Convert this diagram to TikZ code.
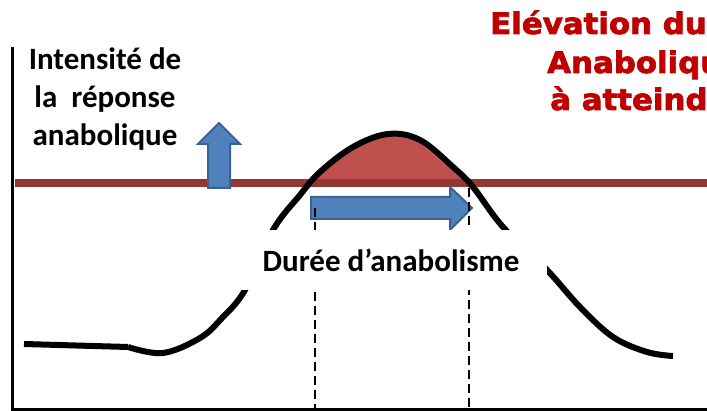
\documentclass[tikz,border=0pt]{standalone}
\usepackage{fontspec}
\setmainfont{Carlito}
\newfontfamily\titlefont[FakeBold=2.5,FakeStretch=1.045]{DejaVu Sans Bold}
\definecolor{arrowblue}{HTML}{4F81BD}
\definecolor{arrowedge}{HTML}{3A6391}
\definecolor{seuilred}{HTML}{943634}
\definecolor{capred}{HTML}{C0504D}
\definecolor{caplight}{HTML}{E27A74}
\definecolor{titlered}{HTML}{C00000}
\begin{document}
\begin{tikzpicture}[x=1pt,y=-1pt,
  curveline/.style={line width=6pt, black},
  bluearrow/.style={fill=arrowblue, draw=arrowedge, line width=2pt, line join=miter},
  guide/.style={line width=2.8pt, black, dash pattern=on 9pt off 5pt},
  axisline/.style={line width=3.2pt, black},
  titletext/.style={anchor=base west, inner sep=0pt, text=titlered,
    font=\titlefont\fontsize{29.5}{30}\selectfont},
  labeltext/.style={font=\bfseries\fontsize{31}{38}\selectfont, inner sep=0pt}]
\useasboundingbox (0,0) rectangle (707,411);
\clip (0,0) rectangle (707,411);

% red cap above the threshold
\begin{scope}
  \clip (0,0) rectangle (707,183);
  \fill[capred] plot[smooth,tension=0.6] coordinates {(128,347) (163,353) (200,338) (222,318) (245,290) (273,230) (300,195) (320,172) (353,147) (388,136) (420,142) (453,167) (473,187) (503,227) (547,270) (580,307) (613,337) (647,352) (673,356)} -- cycle;
  \fill[caplight, opacity=0.45] (420,142) .. controls (438,150) and (450,162) .. (462,178) .. controls (448,168) and (438,158) .. (425,148) -- cycle;
\end{scope}

% threshold line
\coordinate (seuilL) at (15,183);
\coordinate (seuilR) at (707,183);
\draw[seuilred, line width=8pt] (seuilL) -- (seuilR);

% response curve
\coordinate (c0) at (24,344);
\coordinate (c1) at (128,347);
\draw[curveline] (c0) -- (c1);
\draw[curveline] plot[smooth,tension=0.6] coordinates {(128,347) (163,353) (200,338) (222,318) (245,290) (273,230) (300,195) (320,172) (353,147) (388,134) (420,140) (453,167) (473,187) (503,227) (547,270) (580,307) (613,337) (647,352) (673,356)};

% up arrow
\draw[bluearrow] (208,188) -- (208,144) -- (198,144) -- (219,123) -- (240,144) -- (230,144) -- (230,188) -- cycle;

% duration arrow
\draw[bluearrow] (311,197) -- (450,197) -- (450,187) -- (472,208) -- (450,230) -- (450,219) -- (311,219) -- cycle;

% dashed guides
\coordinate (g1t) at (315,208);
\coordinate (g1b) at (315,408);
\coordinate (g2t) at (469,188);
\coordinate (g2b) at (469,408);
\draw[guide] (g1t) -- (g1b);
\draw[guide] (g2t) -- (g2b);

% axes
\coordinate (ytop) at (12.5,47);
\coordinate (ybot) at (12.5,411);
\coordinate (xstart) at (11,409.5);
\coordinate (xend) at (707,409.5);
\draw[axisline] (ytop) -- (ybot);
\draw[axisline] (xstart) -- (xend);

% label box
\node[labeltext, fill=white, minimum width=312pt, minimum height=60pt] (duree) at (391,260) {Durée d’anabolisme};

% y label
\node[labeltext, align=center, anchor=north] (ylabel) at (105,48) {Intensité de\\la~ réponse\\anabolique};

% title
\node[titletext] (t1) at (490,34) {Elévation du};
\node[titletext] (t2) at (547,73) {Anaboliqu};
\node[titletext] (t3) at (550,110) {à atteindr};
\end{tikzpicture}
\end{document}
